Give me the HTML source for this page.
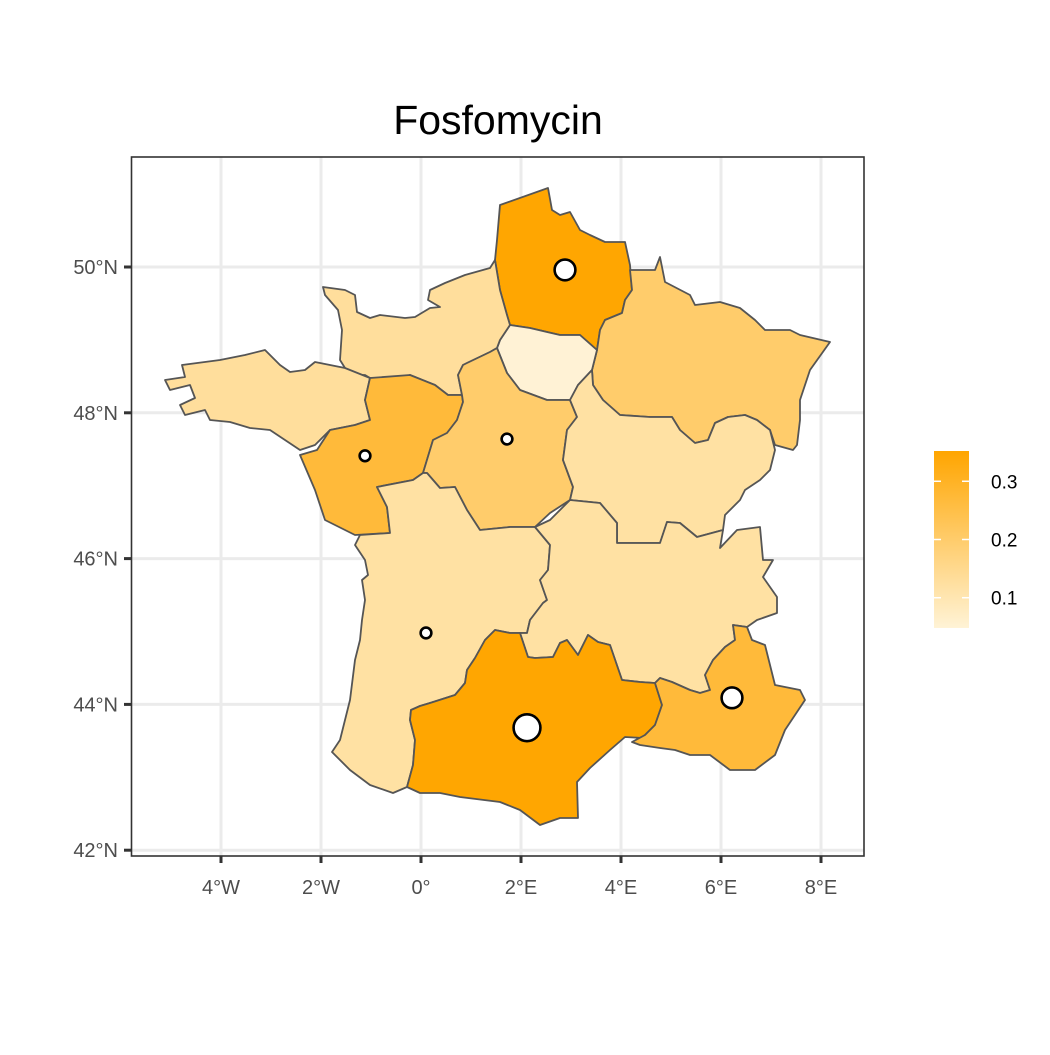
<!DOCTYPE html>
<html><head><meta charset="utf-8"><style>
body{margin:0;background:#fff}
svg text{font-family:"Liberation Sans",Arial,sans-serif}
</style></head><body>
<svg id="chart" width="1050" height="1050" viewBox="0 0 1050 1050" xmlns="http://www.w3.org/2000/svg">
<rect width="1050" height="1050" fill="#fff"/>
<text x="498" y="134" font-size="41" text-anchor="middle" fill="#000">Fosfomycin</text>
<g id="grid"></g>
<g id="regions"></g>
<g id="points"></g>
<rect x="131.5" y="157" width="732.5" height="699" fill="none" stroke="#333" stroke-width="1.6"/>
<g id="axes"></g>
<g id="legend"></g>
</svg>
<script>
// axis data
const lonTicks=[-4,-2,0,2,4,6,8];
const lonLabels=["4°W","2°W","0°","2°E","4°E","6°E","8°E"];
const latTicks=[42,44,46,48,50];
const latLabels=["42°N","44°N","46°N","48°N","50°N"];
// region data
const regionNames=["hauts-de-france","grand-est","ile-de-france","normandie","bretagne","pays-de-la-loire","centre-val-de-loire","bourgogne-franche-comte","nouvelle-aquitaine","auvergne-rhone-alpes","occitanie","provence-alpes-cote-d-azur"];
const regionValues=[0.35,0.20,0.05,0.13,0.13,0.27,0.20,0.12,0.12,0.12,0.35,0.27];
// point data
const pointLon=[2.88,-1.12,1.72,0.10,2.12,6.22];
const pointLat=[49.96,47.41,47.64,44.98,43.68,44.09];
const pointSize=[3,0.8,0.8,0.8,5,3];
// legend data
const legendTicks=[0.1,0.2,0.3];
const legendLabels=["0.1","0.2","0.3"];

const X=lon=>421+lon*50;
const Y=lat=>267-(lat-50)*72.9;
const ns="http://www.w3.org/2000/svg";
function mk(tag,attrs,parent){const e=document.createElementNS(ns,tag);for(const k in attrs)e.setAttribute(k,attrs[k]);parent.appendChild(e);return e;}
const lo=[255,243,214],hi=[255,165,0];
const vmin=0.048,vmax=0.352;
function col(v){let t=(v-vmin)/(vmax-vmin);t=Math.max(0,Math.min(1,t));return "rgb("+lo.map((c,i)=>Math.round(c+(hi[i]-c)*t)).join(",")+")";}

// base-map outlines (pixel geometry)
const shapes=[
"500,205 548,188 552,210 560,215 570,212 580,230 590,235 605,242 625,242 630,265 632,290 625,300 622,313 605,320 600,330 597,350 580,335 560,335 547,332 530,328 510,325 507,315 500,290 495,260 497,240",
"597,350 600,330 605,320 622,313 625,300 632,290 630,270 655,270 660,257 665,282 690,295 695,305 720,302 740,308 755,320 765,330 790,330 800,335 830,342 810,370 800,400 800,420 797,445 793,450 775,445 770,430 757,420 745,415 728,417 715,423 708,440 695,443 680,430 672,417 650,417 620,415 603,400 593,385 592,370",
"510,325 530,328 547,332 560,335 580,335 597,350 592,370 578,385 570,400 547,400 520,390 507,373 497,348 500,340",
"323,287 345,290 355,295 357,312 370,318 380,315 405,318 415,317 430,308 440,307 428,300 430,290 445,283 465,275 490,268 495,260 500,290 507,315 510,325 500,340 497,348 490,352 467,363 463,365 458,375 462,395 448,395 435,385 410,375 395,380 370,378 365,375 350,375 345,368 340,360 342,330 338,310 325,295",
"165,380 185,377 182,365 220,360 245,355 265,350 280,365 290,372 305,370 315,362 330,365 345,368 370,378 365,400 370,420 355,425 330,430 315,445 300,450 285,440 270,430 250,428 230,422 210,420 205,410 185,415 180,405 195,398 190,385 170,390",
"370,378 410,375 435,385 448,395 462,395 463,402 457,420 447,433 433,440 423,473 413,480 377,487 387,507 390,533 355,535 325,520 315,490 300,455 317,450 330,430 355,425 370,420 365,400",
"490,352 497,348 507,373 520,390 547,400 570,400 577,417 567,430 563,460 573,487 570,500 550,513 535,527 510,527 480,530 467,510 455,487 440,488 427,473 423,473 433,440 447,433 457,420 463,402 462,395 458,375 463,365 467,363",
"570,400 578,385 592,370 593,385 603,400 620,415 650,417 672,417 680,430 695,443 708,440 715,423 728,417 745,415 757,420 770,430 775,450 770,470 760,480 745,490 740,500 725,515 723,530 697,537 680,523 667,522 660,543 617,543 617,523 600,503 570,500 573,487 563,460 567,430 577,417",
"377,487 413,480 423,473 427,473 440,488 455,487 467,510 480,530 510,527 535,527 550,545 548,570 540,580 547,600 543,603 530,620 527,633 520,633 510,633 495,630 485,640 475,658 467,670 465,683 455,695 430,703 420,706 411,710 410,720 415,740 413,765 407,787 393,793 370,785 350,770 332,752 340,740 345,720 350,700 355,660 360,640 362,620 365,600 362,580 368,575 365,560 355,545 360,535 390,533 387,507",
"535,527 550,520 570,500 600,503 617,523 617,543 660,543 667,522 680,523 697,537 723,530 720,548 737,530 760,527 763,560 773,560 763,577 777,597 777,613 757,620 747,627 733,625 735,640 725,647 713,660 705,675 710,690 700,693 690,690 672,682 660,678 655,683 640,682 622,680 610,645 598,642 588,635 578,655 567,640 560,643 553,657 535,658 528,657 520,633 527,633 530,620 543,603 547,600 540,580 548,570 550,545",
"411,710 420,706 430,703 455,695 465,683 467,670 475,658 485,640 495,630 510,633 520,633 528,657 535,658 553,657 560,643 567,640 578,655 588,635 598,642 610,645 622,680 640,682 655,683 662,705 655,725 642,738 625,737 610,750 590,768 577,782 578,818 560,818 540,825 520,810 500,802 460,797 440,793 420,793 407,787 413,765 415,740 410,720",
"640,745 632,742 645,735 655,725 662,705 655,683 660,678 672,682 690,690 700,693 710,690 705,675 713,660 725,647 735,640 733,625 747,627 752,640 765,645 770,665 775,685 800,690 805,700 795,715 785,730 775,755 755,770 730,770 710,755 690,755 675,750 660,748"
];

const grid=document.getElementById('grid');
lonTicks.forEach((v,i)=>{const l=mk('line',{x1:X(v),x2:X(v),y1:157,y2:856,stroke:'#EBEBEB','stroke-width':3},grid);
});
latTicks.forEach((v,i)=>{const l=mk('line',{x1:131,x2:864,y1:Y(v),y2:Y(v),stroke:'#EBEBEB','stroke-width':3},grid);
});

const rg=document.getElementById('regions');
regionNames.forEach((n,i)=>{const p=mk('polygon',{points:shapes[i],fill:col(regionValues[i]),stroke:'#555','stroke-width':1.8,'stroke-linejoin':'round'},rg);
});

const pg=document.getElementById('points');
pointLon.forEach((lon,i)=>{const c=mk('circle',{cx:X(lon),cy:Y(pointLat[i]),r:6*Math.sqrt(pointSize[i]),fill:'#fff',stroke:'#000','stroke-width':2.6},pg);
});

const ax=document.getElementById('axes');
lonTicks.forEach((v,i)=>{const t=mk('line',{x1:X(v),x2:X(v),y1:856,y2:863,stroke:'#333','stroke-width':3},ax);

const tx=mk('text',{x:X(v),y:894,'font-size':20,'text-anchor':'middle',fill:'#4D4D4D'},ax);tx.textContent=lonLabels[i];
});
latTicks.forEach((v,i)=>{const t=mk('line',{x1:124,x2:131,y1:Y(v),y2:Y(v),stroke:'#333','stroke-width':3},ax);

const tx=mk('text',{x:118,y:Y(v)+7,'font-size':20,'text-anchor':'end',fill:'#4D4D4D'},ax);tx.textContent=latLabels[i];
});

const lg=document.getElementById('legend');
const LY=v=>451+(vmax-v)/(vmax-vmin)*177;
const defs=mk('defs',{},lg);
const gr=mk('linearGradient',{id:'lgGrad',x1:0,y1:1,x2:0,y2:0},defs);
mk('stop',{offset:0,'stop-color':col(vmin)},gr);mk('stop',{offset:1,'stop-color':col(vmax)},gr);
const bar=mk('rect',{x:934,y:451,width:35,height:177,fill:'url(#lgGrad)'},lg);

legendTicks.forEach((v,i)=>{
mk('line',{x1:934,x2:941,y1:LY(v),y2:LY(v),stroke:'#fff','stroke-width':1.5},lg);
mk('line',{x1:962,x2:969,y1:LY(v),y2:LY(v),stroke:'#fff','stroke-width':1.5},lg);
const tx=mk('text',{x:991,y:LY(v)+7,'font-size':19,fill:'#000'},lg);tx.textContent=legendLabels[i];
});
</script>
</body></html>
